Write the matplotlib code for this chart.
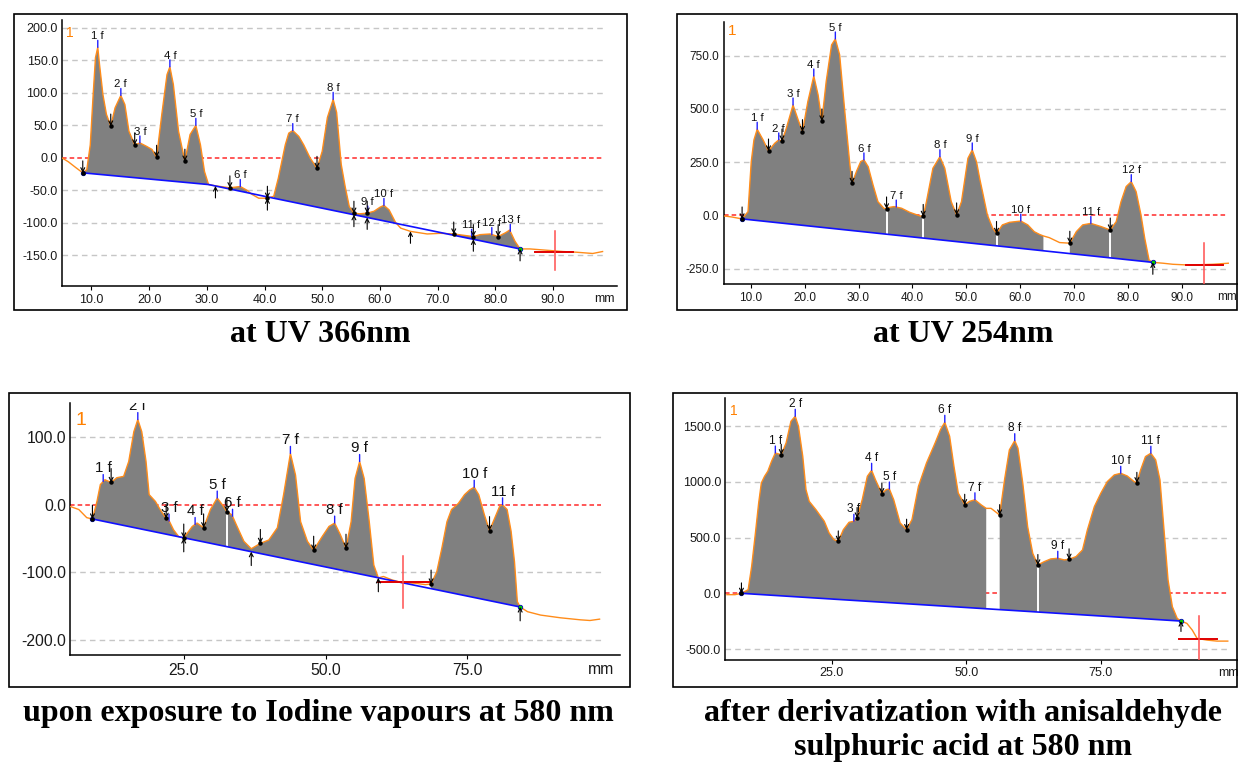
import numpy as np
import matplotlib
matplotlib.use('Agg')
import matplotlib.pyplot as plt
from matplotlib.patches import Rectangle

plt.rcParams['font.family'] = ['Liberation Sans', 'DejaVu Sans']
plt.rcParams['axes.unicode_minus'] = False

# ---------------- panel 1 : at UV 366 nm ----------------
p1_mm = [4.9, 6.0, 7.3, 8.5, 9.2, 9.8, 10.3, 10.7, 11.1, 11.4, 12.0, 12.6, 13.35, 14.1, 15.1,
         15.8, 16.5, 17.5, 18.4, 19.5, 20.5, 21.3, 22.2, 23.1, 23.6, 24.2, 25.1, 26.2, 27.1,
         28.1, 28.9, 29.6, 30.3, 31.5, 34.0, 35.8, 37.0, 37.8, 39.0, 40.5, 41.6, 42.4, 43.6,
         44.2, 44.9, 45.95, 46.8, 47.9, 49.1, 50.0, 50.9, 51.9, 52.5, 52.9, 53.3, 54.0, 54.7,
         55.5, 56.5, 57.8, 59.0, 60.0, 60.7, 61.6, 62.7, 63.6, 65.3, 68.2, 70.5, 72.8, 74.5,
         76.2, 77.4, 79.1, 80.5, 81.8, 82.5, 83.4, 84.3, 86.0, 88.9, 91.7, 94.0, 96.9, 98.6]
p1_au = [0, -6, -15, -23, -18, 20, 97, 154, 170, 144, 97, 67, 49, 77, 96,
         82, 41, 20, 23, 18, 13, 1, 67, 128, 140, 113, 41, -5, 36,
         50, 20, -21, -41, -43, -46, -44, -50, -56, -62, -62, -59, -31, 20,
         38, 42, 33, 20, 0, -16, 10, 62, 90, 70, 30, -10, -45, -75,
         -85, -86, -85, -82, -76, -73, -80, -99, -108, -113, -117, -116, -117, -119,
         -121, -118, -117, -121, -115, -111, -128, -140, -140, -142, -144, -145, -147, -144]
p1_base_mm = [8.5, 30.3, 40.5, 84.3]
p1_base_au = [-23, -41, -60, -140]
p1_regions = [(8.5, 30.3), (34.0, 37.8), (40.5, 84.3)]
p1_splits = []
p1_peaks = ['1 f', '2 f', '3 f', '4 f', '5 f', '6 f', '7 f', '8 f', '9 f', '10 f', '11 f', '12 f', '13 f']
p1_peak_mm = [11.1, 15.1, 18.4, 23.6, 28.1, 35.8, 44.9, 51.9, 57.9, 60.7, 75.9, 79.4, 82.6]
p1_down = [8.5, 13.35, 17.5, 21.3, 26.2, 34.0, 40.5, 49.1, 55.5, 57.8, 72.8, 76.2, 80.5]
p1_up = [31.5, 40.5, 55.5, 57.8, 65.3, 76.2, 84.3]
p1_cross = [90.3, -113, -173, 86.8, 93.4, -144]

# ---------------- panel 2 : at UV 254 nm ----------------
p2_mm = [5.05, 6.5, 8.4, 9.5, 10.1, 10.6, 11.2, 12.3, 13.3, 14.45, 15.2, 15.8, 16.6, 17.85,
         18.8, 19.6, 20.6, 21.7, 22.5, 23.2, 24.0, 25.0, 25.7, 26.5, 27.4, 28.4, 28.8, 29.6,
         30.4, 31.0, 31.8, 32.7, 33.6, 34.7, 35.2, 35.5, 36.6, 38.0, 39.5, 41.4, 42.0, 42.6,
         43.8, 45.1, 46.0, 47.2, 48.2, 49.1, 50.3, 51.1, 51.9, 52.5, 53.0, 53.9, 54.9, 55.6,
         56.7, 58.0, 60.1, 61.4, 62.6, 63.6, 64.3, 65.4, 67.3, 69.2, 70.4, 71.6, 73.1, 75.0,
         76.7, 77.8, 78.7, 79.65, 80.6, 81.5, 82.4, 83.1, 83.9, 84.6, 86.5, 88.3, 90.8, 93.3,
         95.8, 98.6]
p2_au = [-3, -8, -17, 17, 252, 354, 404, 354, 302, 338, 354, 349, 408, 518,
         448, 393, 534, 654, 565, 443, 628, 800, 828, 753, 502, 236, 150, 205,
         252, 260, 228, 142, 64, 33, 30, 36, 41, 33, 14, -3, -5, 64,
         221, 275, 221, 64, 2, 64, 268, 307, 250, 170, 111, 2, -61, -85,
         -45, -33, -27, -45, -77, -90, -97, -105, -128, -131, -77, -45, -38, -53,
         -69, -30, 64, 135, 158, 111, 2, -108, -210, -221, -225, -230, -233, -232,
         -230, -225]
p2_base_mm = [8.4, 84.6]
p2_base_au = [-17, -221]
p2_regions = [(8.4, 64.3), (69.2, 84.6)]
p2_splits = [35.2, 42.0, 55.6, 76.7]
p2_peaks = ['1 f', '2 f', '3 f', '4 f', '5 f', '6 f', '7 f', '8 f', '9 f', '10 f', '11 f', '12 f']
p2_peak_mm = [11.2, 15.2, 17.85, 21.7, 25.7, 31.0, 37.0, 45.1, 51.1, 60.1, 73.1, 80.6]
p2_down = [8.4, 13.3, 15.8, 19.6, 23.2, 28.8, 35.2, 42.0, 48.2, 55.6, 69.2, 76.7]
p2_up = [84.6]
p2_cross = [94.1, -131, -330, 90.8, 97.6, -232]

# ---------------- panel 3 : iodine vapours at 580 nm ----------------
p3_mm = [5.0, 6.5, 7.9, 8.9, 9.7, 10.3, 11.1, 12.2, 13.2, 14.4, 15.3, 16.2, 16.9, 17.6,
         18.35, 18.9, 20.0, 21.05, 21.9, 22.5, 23.2, 24.1, 25.0, 26.5, 27.35, 28.5, 29.7,
         30.9, 31.8, 32.6, 33.5, 34.4, 35.6, 36.9, 38.5, 40.0, 41.5, 42.6, 43.8, 44.7, 45.6,
         46.8, 47.9, 49.4, 50.6, 51.6, 52.6, 53.6, 54.5, 55.2, 56.0, 56.8, 57.7, 58.5, 59.3,
         60.2, 61.7, 63.5, 65.8, 67.6, 68.6, 69.6, 70.5, 71.4, 72.2, 73.4, 74.5, 75.4, 76.2,
         77.0, 78.0, 78.9, 79.8, 80.7, 81.2, 82.0, 82.7, 83.3, 83.8, 84.3, 85.6, 87.9, 91.4,
         94.9, 96.6, 98.3]
p3_au = [-2.5, -7, -19, -21, 5, 30, 37, 33, 40, 42, 64, 108, 126, 108,
         64, 15, 5, -10, -20, -25, -37, -47, -49, -32, -27, -34, -7,
         10, 0, -10, -15, -32, -54, -65, -57, -52, -34, 15, 76, 44, -25,
         -54, -67, -47, -32, -27, -44, -64, -25, 39, 64, 39, -25, -89, -108,
         -106, -111, -115, -116, -118, -117, -99, -64, -25, -7, 2, 15, 22, 26,
         15, -15, -38, -20, -2, 0, -7, -39, -84, -143, -151, -158, -163, -167,
         -170, -171, -169]
p3_base_mm = [8.9, 84.3]
p3_base_au = [-21, -151]
p3_regions = [(8.9, 59.3), (68.6, 84.3)]
p3_splits = [32.6]
p3_peaks = ['1 f', '2 f', '3 f', '4 f', '5 f', '6 f', '7 f', '8 f', '9 f', '10 f', '11 f']
p3_peak_mm = [10.8, 16.9, 22.4, 27.0, 30.9, 33.6, 43.8, 51.6, 56.0, 76.2, 81.2]
p3_down = [8.9, 12.2, 21.9, 25.0, 28.5, 32.6, 38.5, 47.9, 53.6, 68.6, 78.9]
p3_up = [25.0, 36.9, 59.3, 84.3]
p3_cross = [63.65, -75, -152, 59.3, 68.6, -114]

# ---------------- panel 4 : anisaldehyde sulphuric acid at 580 nm ----------------
p4_mm = [5.5, 7.0, 8.2, 9.45, 10.1, 10.8, 11.4, 11.9, 12.5, 13.1, 13.8, 14.5, 15.6, 16.5,
         17.4, 18.2, 18.8, 19.6, 20.2, 20.8, 22.05, 23.6, 24.5, 25.4, 26.2, 27.15, 28.2,
         29.1, 29.7, 30.65, 31.6, 32.4, 33.1, 34.3, 35.1, 35.7, 36.5, 37.7, 38.9, 39.9, 41.1,
         42.6, 44.2, 45.2, 46.0, 46.9, 47.7, 48.5, 49.7, 50.6, 51.6, 52.8, 53.7, 54.6, 55.4,
         56.2, 57.1, 58.0, 59.0, 59.6, 60.5, 61.4, 62.35, 63.3, 64.5, 65.7, 67.0, 68.2, 69.1,
         70.4, 71.6, 72.5, 73.8, 75.0, 76.2, 77.5, 78.7, 79.9, 81.2, 81.7, 82.4, 83.3, 84.3,
         85.2, 86.0, 86.7, 87.5, 88.3, 89.2, 89.9, 91.0, 92.0, 92.9, 94.75, 96.6, 98.6]
p4_au = [-12, -12, 0, 33, 243, 542, 811, 991, 1051, 1096, 1186, 1260, 1245, 1350,
         1545, 1590, 1500, 1230, 931, 826, 751, 647, 542, 482, 467, 572, 638,
         647, 677, 841, 1051, 1105, 1021, 895, 931, 937, 841, 632, 572, 662, 961,
         1171, 1350, 1470, 1536, 1410, 1141, 901, 796, 826, 840, 793, 763, 763, 733,
         703, 1018, 1288, 1371, 1303, 988, 599, 359, 255, 285, 309, 315, 300, 306,
         330, 390, 569, 779, 899, 1003, 1063, 1078, 1054, 1003, 993, 1108, 1228, 1258,
         1198, 1018, 599, 120, -120, -225, -249, -270, -330, -405, -420, -429, -429]
p4_base_mm = [8.2, 89.9]
p4_base_au = [0, -249]
p4_regions = [(8.2, 53.7), (56.2, 68.2), (69.1, 89.9)]
p4_splits = [63.3]
p4_peaks = ['1 f', '2 f', '3 f', '4 f', '5 f', '6 f', '7 f', '8 f', '9 f', '10 f', '11 f']
p4_peak_mm = [14.5, 18.2, 29.1, 32.4, 35.7, 46.0, 51.6, 59.0, 67.0, 78.7, 84.3]
p4_down = [8.2, 15.6, 26.2, 29.7, 34.3, 38.9, 49.7, 56.2, 63.3, 69.1, 81.7]
p4_up = [89.9]
p4_cross = [93.2, -207, -610, 89.5, 96.6, -407]

captions = ['at UV 366nm', 'at UV 254nm', 'upon exposure to Iodine vapours at 580 nm',
            'after derivatization with anisaldehyde\nsulphuric acid at 580 nm']

W, H = 1238, 763
fig = plt.figure(figsize=(W / 100, H / 100), dpi=100)


def px_axes(left, top, right, bottom):
    return fig.add_axes([left / W, 1 - bottom / H, (right - left) / W, (bottom - top) / H])


def frame(x0, y0, x1, y1):
    fig.add_artist(Rectangle((x0 / W, 1 - y1 / H), (x1 - x0) / W, (y1 - y0) / H,
                             transform=fig.transFigure, fill=False, ec='black', lw=1.2))


def draw_panel(ax, mm, au, base_mm, base_au, regions, splits, names, peak_mm, down, up,
               cross, xlim, ylim, xticks, yticks, mm_x, tick_fs, peak_fs, arrow_len,
               one_fs, one_off):
    mm = np.asarray(mm, float)
    au = np.asarray(au, float)
    base = np.interp(mm, base_mm, base_au)
    inside = np.zeros(len(mm), bool)
    for a, b in regions:
        inside |= (mm >= a - 1e-6) & (mm <= b + 1e-6)

    for t in yticks:
        if t == 0:
            ax.hlines(0, xlim[0], 98.6, colors='#ff2a2a', linestyles=(0, (3, 2)), lw=1.1, zorder=1)
        else:
            ax.hlines(t, xlim[0], 98.6, colors='#c6c6c6', linestyles=(0, (4, 3)), lw=1.0, zorder=1)

    ax.fill_between(mm, au, base, where=inside & (au >= base - 0.5), interpolate=False,
                    color='#808080', lw=0, zorder=2)
    if splits:
        ax.vlines(splits, np.interp(splits, base_mm, base_au), np.interp(splits, mm, au),
                  colors='white', lw=1.4, zorder=3)
    ax.plot(mm, au, color='#ff8c1a', lw=1.0, zorder=4)
    ax.plot(base_mm, base_au, color='#1010ff', lw=1.2, zorder=5)
    ax.plot([base_mm[0], base_mm[-1]], [base_au[0], base_au[-1]], 'o', ms=3.2,
            mfc='#00d000', mec='#0000c0', mew=0.6, zorder=7)

    # integration crosshair
    cx, cy0, cy1, hx0, hx1, hy = cross
    ax.plot([hx0, hx1], [hy, hy], color='#e00000', lw=1.4, zorder=6)
    ax.plot([cx, cx], [cy0, cy1], color='#ff5050', lw=1.1, zorder=6)

    # peak labels
    for n, x in zip(names, peak_mm):
        y = np.interp(x, mm, au)
        ax.annotate('', xy=(x, y), xytext=(0, 5), textcoords='offset points',
                    arrowprops=dict(arrowstyle='-', color='#2020ff', lw=1.0,
                                    shrinkA=0, shrinkB=0), zorder=6)
        ax.annotate(n, xy=(x, y), xytext=(0, 4.5), textcoords='offset points',
                    ha='center', va='bottom', fontsize=peak_fs, color='#111111',
                    clip_on=True, zorder=8)

    # start / end arrows
    for x in down:
        y = np.interp(x, mm, au)
        ax.annotate('', xy=(x, y), xytext=(0, arrow_len), textcoords='offset points',
                    arrowprops=dict(arrowstyle='->', color='black', lw=0.8,
                                    shrinkA=0, shrinkB=0, mutation_scale=7), zorder=8)
        ax.plot(x, y, 'o', ms=2.2, color='black', zorder=8)
    for x in up:
        y = min(np.interp(x, mm, au), np.interp(x, base_mm, base_au))
        ax.annotate('', xy=(x, y), xytext=(0, -arrow_len), textcoords='offset points',
                    arrowprops=dict(arrowstyle='->', color='black', lw=0.8,
                                    shrinkA=0, shrinkB=0, mutation_scale=7), zorder=8)

    ax.set_xlim(xlim)
    ax.set_ylim(ylim)
    ax.set_xticks(xticks, [f'{v:.1f}' for v in xticks])
    ax.set_yticks(yticks, [f'{v:.1f}' for v in yticks])
    ax.tick_params(axis='x', length=3, width=0.8, pad=2.5, labelsize=tick_fs,
                   labelcolor='#1a1a1a')
    ax.tick_params(axis='y', length=0, pad=3, labelsize=tick_fs, labelcolor='#1a1a1a')
    for s in ('top', 'right'):
        ax.spines[s].set_visible(False)
    for s in ('left', 'bottom'):
        ax.spines[s].set_linewidth(1.1)
    ax.annotate('mm', xy=(mm_x, 0), xycoords=ax.get_xaxis_transform(), xytext=(0, -5),
                textcoords='offset points', ha='center', va='top', fontsize=tick_fs,
                color='#1a1a1a', annotation_clip=False)
    ax.annotate('1', xy=(0, 1), xycoords='axes fraction', xytext=one_off,
                textcoords='offset points', ha='left', va='top', fontsize=one_fs,
                color='#ff8000')


frame(14, 14, 627, 310)
frame(677, 14, 1237, 310)
frame(9, 393, 630, 687)
frame(673, 393, 1237, 687)

ax1 = px_axes(62, 20, 617, 286)
draw_panel(ax1, p1_mm, p1_au, p1_base_mm, p1_base_au, p1_regions, p1_splits, p1_peaks,
           p1_peak_mm, p1_down, p1_up, p1_cross, (4.9, 101.1), (-197, 212),
           [10, 20, 30, 40, 50, 60, 70, 80, 90], [-150, -100, -50, 0, 50, 100, 150, 200],
           98.9, 9, 8.2, 8.6, 10, (3, -4))

ax2 = px_axes(723.5, 21.7, 1238, 284.3)
draw_panel(ax2, p2_mm, p2_au, p2_base_mm, p2_base_au, p2_regions, p2_splits, p2_peaks,
           p2_peak_mm, p2_down, p2_up, p2_cross, (4.95, 100.4), (-324, 909),
           [10, 20, 30, 40, 50, 60, 70, 80, 90], [-250, 0, 250, 500, 750],
           98.4, 8.5, 8.2, 8.6, 11, (3, -2))

ax3 = px_axes(70.3, 403.3, 620, 655)
draw_panel(ax3, p3_mm, p3_au, p3_base_mm, p3_base_au, p3_regions, p3_splits, p3_peaks,
           p3_peak_mm, p3_down, p3_up, p3_cross, (5.0, 101.9), (-222, 150),
           [25, 50, 75], [-200, -100, 0, 100],
           98.6, 11.3, 10.8, 10, 14, (3.5, -6.5))

ax4 = px_axes(725.3, 398, 1238, 659.7)
draw_panel(ax4, p4_mm, p4_au, p4_base_mm, p4_base_au, p4_regions, p4_splits, p4_peaks,
           p4_peak_mm, p4_down, p4_up, p4_cross, (5.2, 100.5), (-596, 1754),
           [25, 50, 75], [-500, 0, 500, 1000, 1500],
           98.8, 9, 8.6, 7.5, 10, (3.5, -4.5))

cap = dict(ha='center', va='center', fontsize=23, fontweight='bold',
           family=['Liberation Serif', 'DejaVu Serif'], color='black')
fig.text(320 / W, 1 - 335 / H, captions[0], **cap)
fig.text(963 / W, 1 - 335 / H, captions[1], **cap)
fig.text(318 / W, 1 - 713 / H, captions[2], **cap)
fig.text(963 / W, 1 - 713 / H, captions[3].split('\n')[0], **cap)
fig.text(963 / W, 1 - 748 / H, captions[3].split('\n')[1], **cap)

fig.savefig('out.png', dpi=100, facecolor='white')
